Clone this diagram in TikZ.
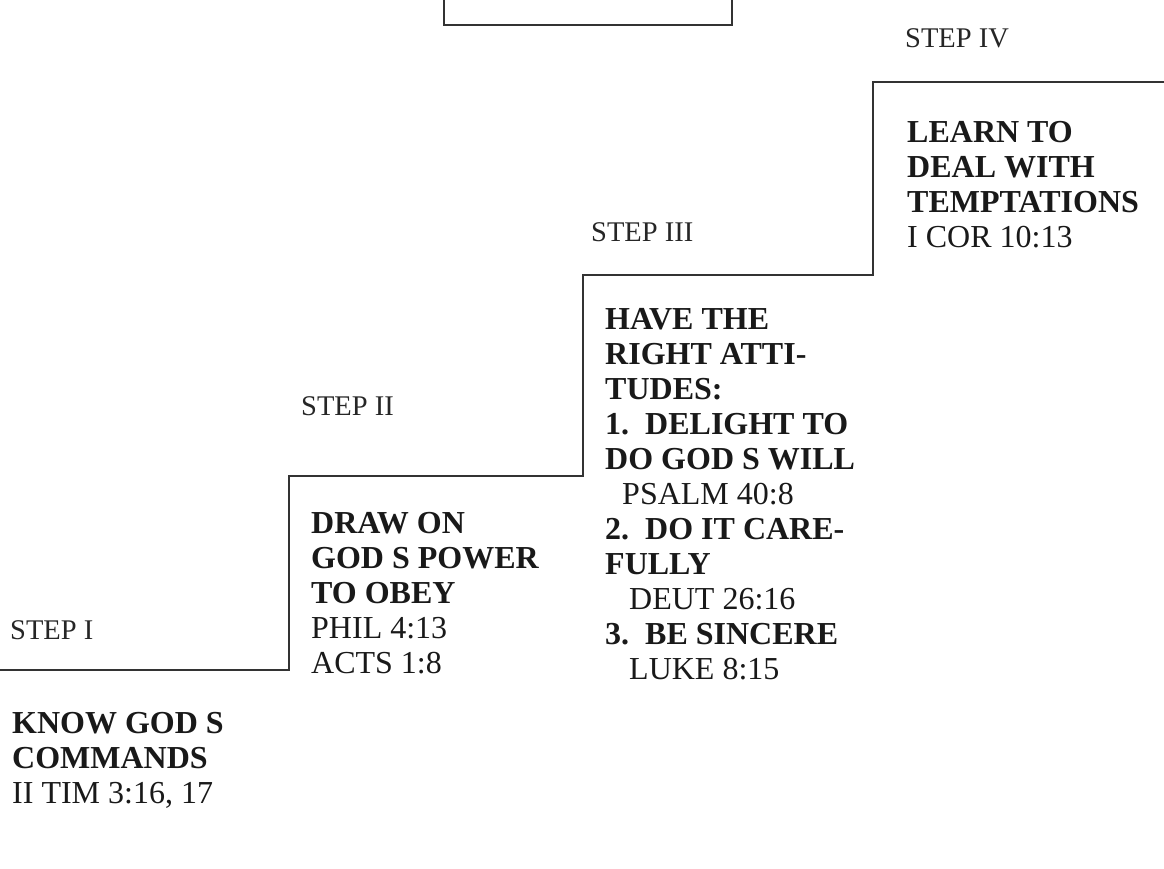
\documentclass[tikz,border=0pt]{standalone}
\usepackage{fontspec}
\setmainfont{Liberation Serif}
\usepackage{tikz}

\begin{document}
\begin{tikzpicture}[x=1pt,y=-1pt,
  steplbl/.style={anchor=north west,inner sep=0pt,text=black!85,font=\fontsize{28.5}{30}\selectfont},
  stepbox/.style={anchor=north west,inner sep=0pt,align=left,text=black!90,font=\fontsize{32}{35}\selectfont}]
\useasboundingbox (0,0) rectangle (1164,868);
% box at the top, cut by the edge
\draw[line width=2.6pt,black!80] (444,-5)--(444,25)--(732,25)--(732,-5);
% the stairs
\draw[line width=2pt,black!80] (0,670)--(289,670)--(289,476)--(583,476)--(583,275)--(873,275)--(873,82)--(1164,82);
% step names
\node[steplbl] (stepI) at (10,620) {STEP I};
\node[steplbl] (stepII) at (301,396) {STEP II};
\node[steplbl] (stepIII) at (591,222) {STEP III};
\node[steplbl] (stepIV) at (905,28) {STEP IV};
% what to do on each step
\node[stepbox] (know) at (12,712) {\textbf{KNOW GOD S}\\ \textbf{COMMANDS}\\ II TIM 3:16, 17};
\node[stepbox] (draw) at (311,512) {\textbf{DRAW ON}\\ \textbf{GOD S POWER}\\ \textbf{TO OBEY}\\ PHIL 4:13\\ ACTS 1:8};
\node[stepbox] (have) at (605,308) {\textbf{HAVE THE}\\ \textbf{RIGHT ATTI-}\\ \textbf{TUDES:}\\
  \textbf{1.\ \ DELIGHT TO}\\ \textbf{DO GOD S WILL}\\ \hspace*{17pt}PSALM 40:8\\
  \textbf{2.\ \ DO IT CARE-}\\ \textbf{FULLY}\\ \hspace*{24pt}DEUT 26:16\\
  \textbf{3.\ \ BE SINCERE}\\ \hspace*{24pt}LUKE 8:15};
\node[stepbox] (learn) at (907,121) {\textbf{LEARN TO}\\ \textbf{DEAL WITH}\\ \textbf{TEMPTATIONS}\\ I COR 10:13};
\end{tikzpicture}
\end{document}
